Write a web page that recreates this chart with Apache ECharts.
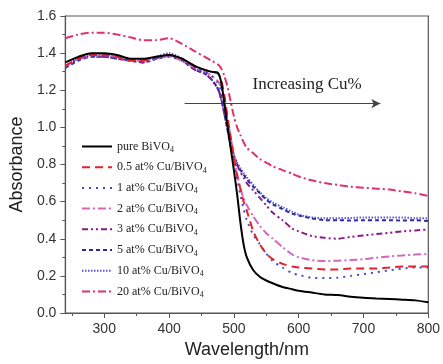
<!DOCTYPE html>
<html>
<head>
<meta charset="utf-8">
<script src="https://cdn.jsdelivr.net/npm/echarts@6/dist/echarts.min.js"></script>
<style>
html,body{margin:0;padding:0;background:#fff;}
#chart{width:443px;height:364px;}
</style>
</head>
<body>
<div id="chart"></div>
<script>
// ---- data ----
var wavelength = [240,260,280,300,320,340,360,380,400,420,440,455,465,475,480,485,490,495,500,505,510,515,520,530,540,550,560,575,590,600,620,640,660,680,700,720,740,760,780,800];

var pure = [1.35,1.38,1.40,1.40,1.39,1.37,1.37,1.38,1.39,1.37,1.33,1.31,1.30,1.295,1.25,1.14,1.01,0.89,0.77,0.64,0.49,0.37,0.30,0.23,0.195,0.175,0.16,0.14,0.128,0.12,0.11,0.10,0.097,0.088,0.082,0.078,0.075,0.072,0.068,0.058];
var cu05 = [1.33,1.37,1.39,1.39,1.38,1.36,1.36,1.38,1.39,1.37,1.33,1.31,1.30,1.29,1.26,1.18,1.06,0.95,0.84,0.74,0.67,0.60,0.55,0.44,0.37,0.32,0.29,0.265,0.25,0.245,0.24,0.235,0.235,0.24,0.24,0.24,0.245,0.25,0.25,0.25];
var cu1 = [1.32,1.36,1.38,1.38,1.37,1.36,1.36,1.37,1.38,1.36,1.32,1.30,1.28,1.24,1.20,1.12,1.02,0.92,0.82,0.72,0.64,0.56,0.50,0.42,0.37,0.32,0.28,0.245,0.215,0.205,0.19,0.188,0.19,0.20,0.21,0.22,0.23,0.24,0.245,0.245];
var cu2 = [1.33,1.37,1.38,1.39,1.38,1.36,1.36,1.37,1.38,1.36,1.32,1.30,1.28,1.25,1.22,1.15,1.05,0.95,0.85,0.75,0.67,0.62,0.58,0.52,0.47,0.43,0.40,0.355,0.315,0.30,0.285,0.28,0.282,0.285,0.29,0.298,0.305,0.31,0.315,0.318];
var cu3 = [1.33,1.37,1.38,1.38,1.37,1.36,1.35,1.37,1.39,1.36,1.31,1.29,1.26,1.21,1.16,1.08,1.00,0.92,0.85,0.80,0.76,0.73,0.70,0.66,0.62,0.58,0.54,0.50,0.455,0.44,0.415,0.405,0.40,0.41,0.418,0.425,0.432,0.44,0.445,0.45];
var cu5 = [1.32,1.36,1.38,1.38,1.37,1.36,1.35,1.37,1.39,1.36,1.31,1.29,1.26,1.21,1.16,1.08,0.99,0.90,0.84,0.80,0.77,0.745,0.72,0.68,0.645,0.61,0.585,0.56,0.535,0.525,0.51,0.50,0.50,0.498,0.50,0.50,0.50,0.498,0.50,0.495];
var cu10 = [1.33,1.37,1.39,1.39,1.38,1.36,1.36,1.38,1.40,1.37,1.32,1.29,1.26,1.21,1.16,1.08,0.99,0.91,0.85,0.81,0.78,0.755,0.73,0.69,0.65,0.62,0.595,0.57,0.545,0.53,0.515,0.51,0.51,0.512,0.515,0.515,0.515,0.515,0.51,0.51];
var cu20 = [1.48,1.50,1.51,1.51,1.50,1.485,1.47,1.47,1.48,1.45,1.41,1.38,1.36,1.34,1.32,1.28,1.22,1.14,1.06,1.00,0.96,0.92,0.89,0.86,0.83,0.81,0.79,0.77,0.75,0.735,0.715,0.70,0.69,0.68,0.675,0.67,0.665,0.655,0.645,0.63];

var seriesNames = ['pure BiVO4','0.5 at% Cu/BiVO4','1 at% Cu/BiVO4','2 at% Cu/BiVO4','3 at% Cu/BiVO4','5 at% Cu/BiVO4','10 at% Cu/BiVO4','20 at% Cu/BiVO4'];
var seriesValues = [pure, cu05, cu1, cu2, cu3, cu5, cu10, cu20];

var xTicks = [300,400,500,600,700,800];
var xMinorTicks = [250,350,450,550,650,750];

var arrowStart = [424, 1.128];
var arrowEnd = [726, 1.128];
var annotationText = 'Increasing Cu%';
var annotationPos = [613, 1.232];

// ---- styles ----
var colors = ['#000000','#e8202a','#3a4fd0','#d06ab8','#8b1a8b','#2a2a9e','#5858d8','#e0306e'];
var dashes = ['solid',[8,5],[2,5],[8,3,2,3],[6,3,2,3,2,3],[4,3],[1.5,1.5],[8,3,2,3]];

function pairs(vals){
  return wavelength.map(function(w,i){return [w, vals[i]];});
}

var series = seriesNames.map(function(name, i){
  return {
    name: name,
    type: 'line',
    data: pairs(seriesValues[i]),
    symbol: 'none',
    showSymbol: false,
    smooth: 0.25,
    z: i === 0 ? 20 : 10 - i,
    lineStyle: {color: colors[i], width: 2, type: dashes[i]},
    itemStyle: {color: colors[i]}
  };
});

series.push({
  name: 'annotation',
  type: 'line',
  data: [],
  symbol: 'none',
  silent: true,
  markLine: {
    silent: true,
    symbol: ['none','arrow'],
    symbolSize: [7, 9],
    label: {show: false},
    lineStyle: {color: '#444', width: 1, type: 'solid'},
    data: [[{coord: arrowStart}, {coord: arrowEnd}]]
  },
  markPoint: {
    silent: true,
    symbol: 'circle',
    symbolSize: 0,
    label: {
      show: true, position: 'inside', formatter: annotationText,
      fontFamily: 'Liberation Serif', fontSize: 17, color: '#222'
    },
    data: [{coord: annotationPos}]
  }
});

var chart = echarts.init(document.getElementById('chart'), null, {renderer: 'canvas'});
var axisColor = '#555';
chart.setOption({
  animation: false,
  backgroundColor: '#fff',
  grid: {left: 59, top: 16, right: 11, bottom: 46, show: true, borderColor: axisColor, borderWidth: 1.2, backgroundColor: 'transparent'},
  legend: {
    data: seriesNames,
    orient: 'vertical',
    left: 76, top: 134,
    itemWidth: 30, itemHeight: 14, itemGap: 5.7,
    itemStyle: {opacity: 0},
    textStyle: {
      fontFamily: 'Liberation Serif', fontSize: 12, color: '#222',
      rich: {
        t: {fontFamily: 'Liberation Serif', fontSize: 12, color: '#222', lineHeight: 14},
        s: {fontFamily: 'Liberation Serif', fontSize: 8, color: '#222', lineHeight: 14, padding: [7,0,0,0]}
      }
    },
    formatter: function(name){
      return '{t|' + name.replace(/4$/, '') + '}{s|4}';
    }
  },
  xAxis: [{
    type: 'value', min: 240, max: 800,
    name: 'Wavelength/nm', nameLocation: 'middle', nameGap: 28,
    nameTextStyle: {fontFamily: 'Liberation Sans', fontSize: 18, color: '#222'},
    axisLine: {show: true, lineStyle: {color: axisColor, width: 1.2}},
    axisTick: {show: true, inside: false, length: 5, customValues: xTicks, lineStyle: {color: axisColor}},
    axisLabel: {customValues: xTicks, margin: 9, fontFamily: 'Liberation Sans', fontSize: 14, color: '#333'},
    splitLine: {show: false}
  }, {
    type: 'value', min: 240, max: 800, position: 'bottom',
    axisLine: {show: false},
    axisTick: {show: true, inside: false, length: 3, customValues: xMinorTicks, lineStyle: {color: axisColor}},
    axisLabel: {show: false},
    splitLine: {show: false}
  }],
  yAxis: {
    type: 'value', min: 0, max: 1.6, interval: 0.2,
    name: 'Absorbance', nameLocation: 'middle', nameGap: 28,
    nameTextStyle: {fontFamily: 'Liberation Sans', fontSize: 18, color: '#222'},
    axisLine: {show: true, lineStyle: {color: axisColor, width: 1.2}},
    axisTick: {show: true, inside: false, length: 5, lineStyle: {color: axisColor}},
    minorTick: {show: true, splitNumber: 2, length: 3, lineStyle: {color: axisColor}},
    axisLabel: {margin: 9, fontFamily: 'Liberation Sans', fontSize: 14, color: '#333',
      formatter: function(v){return v.toFixed(1);}},
    splitLine: {show: false}
  },
  series: series
});
</script>
</body>
</html>
